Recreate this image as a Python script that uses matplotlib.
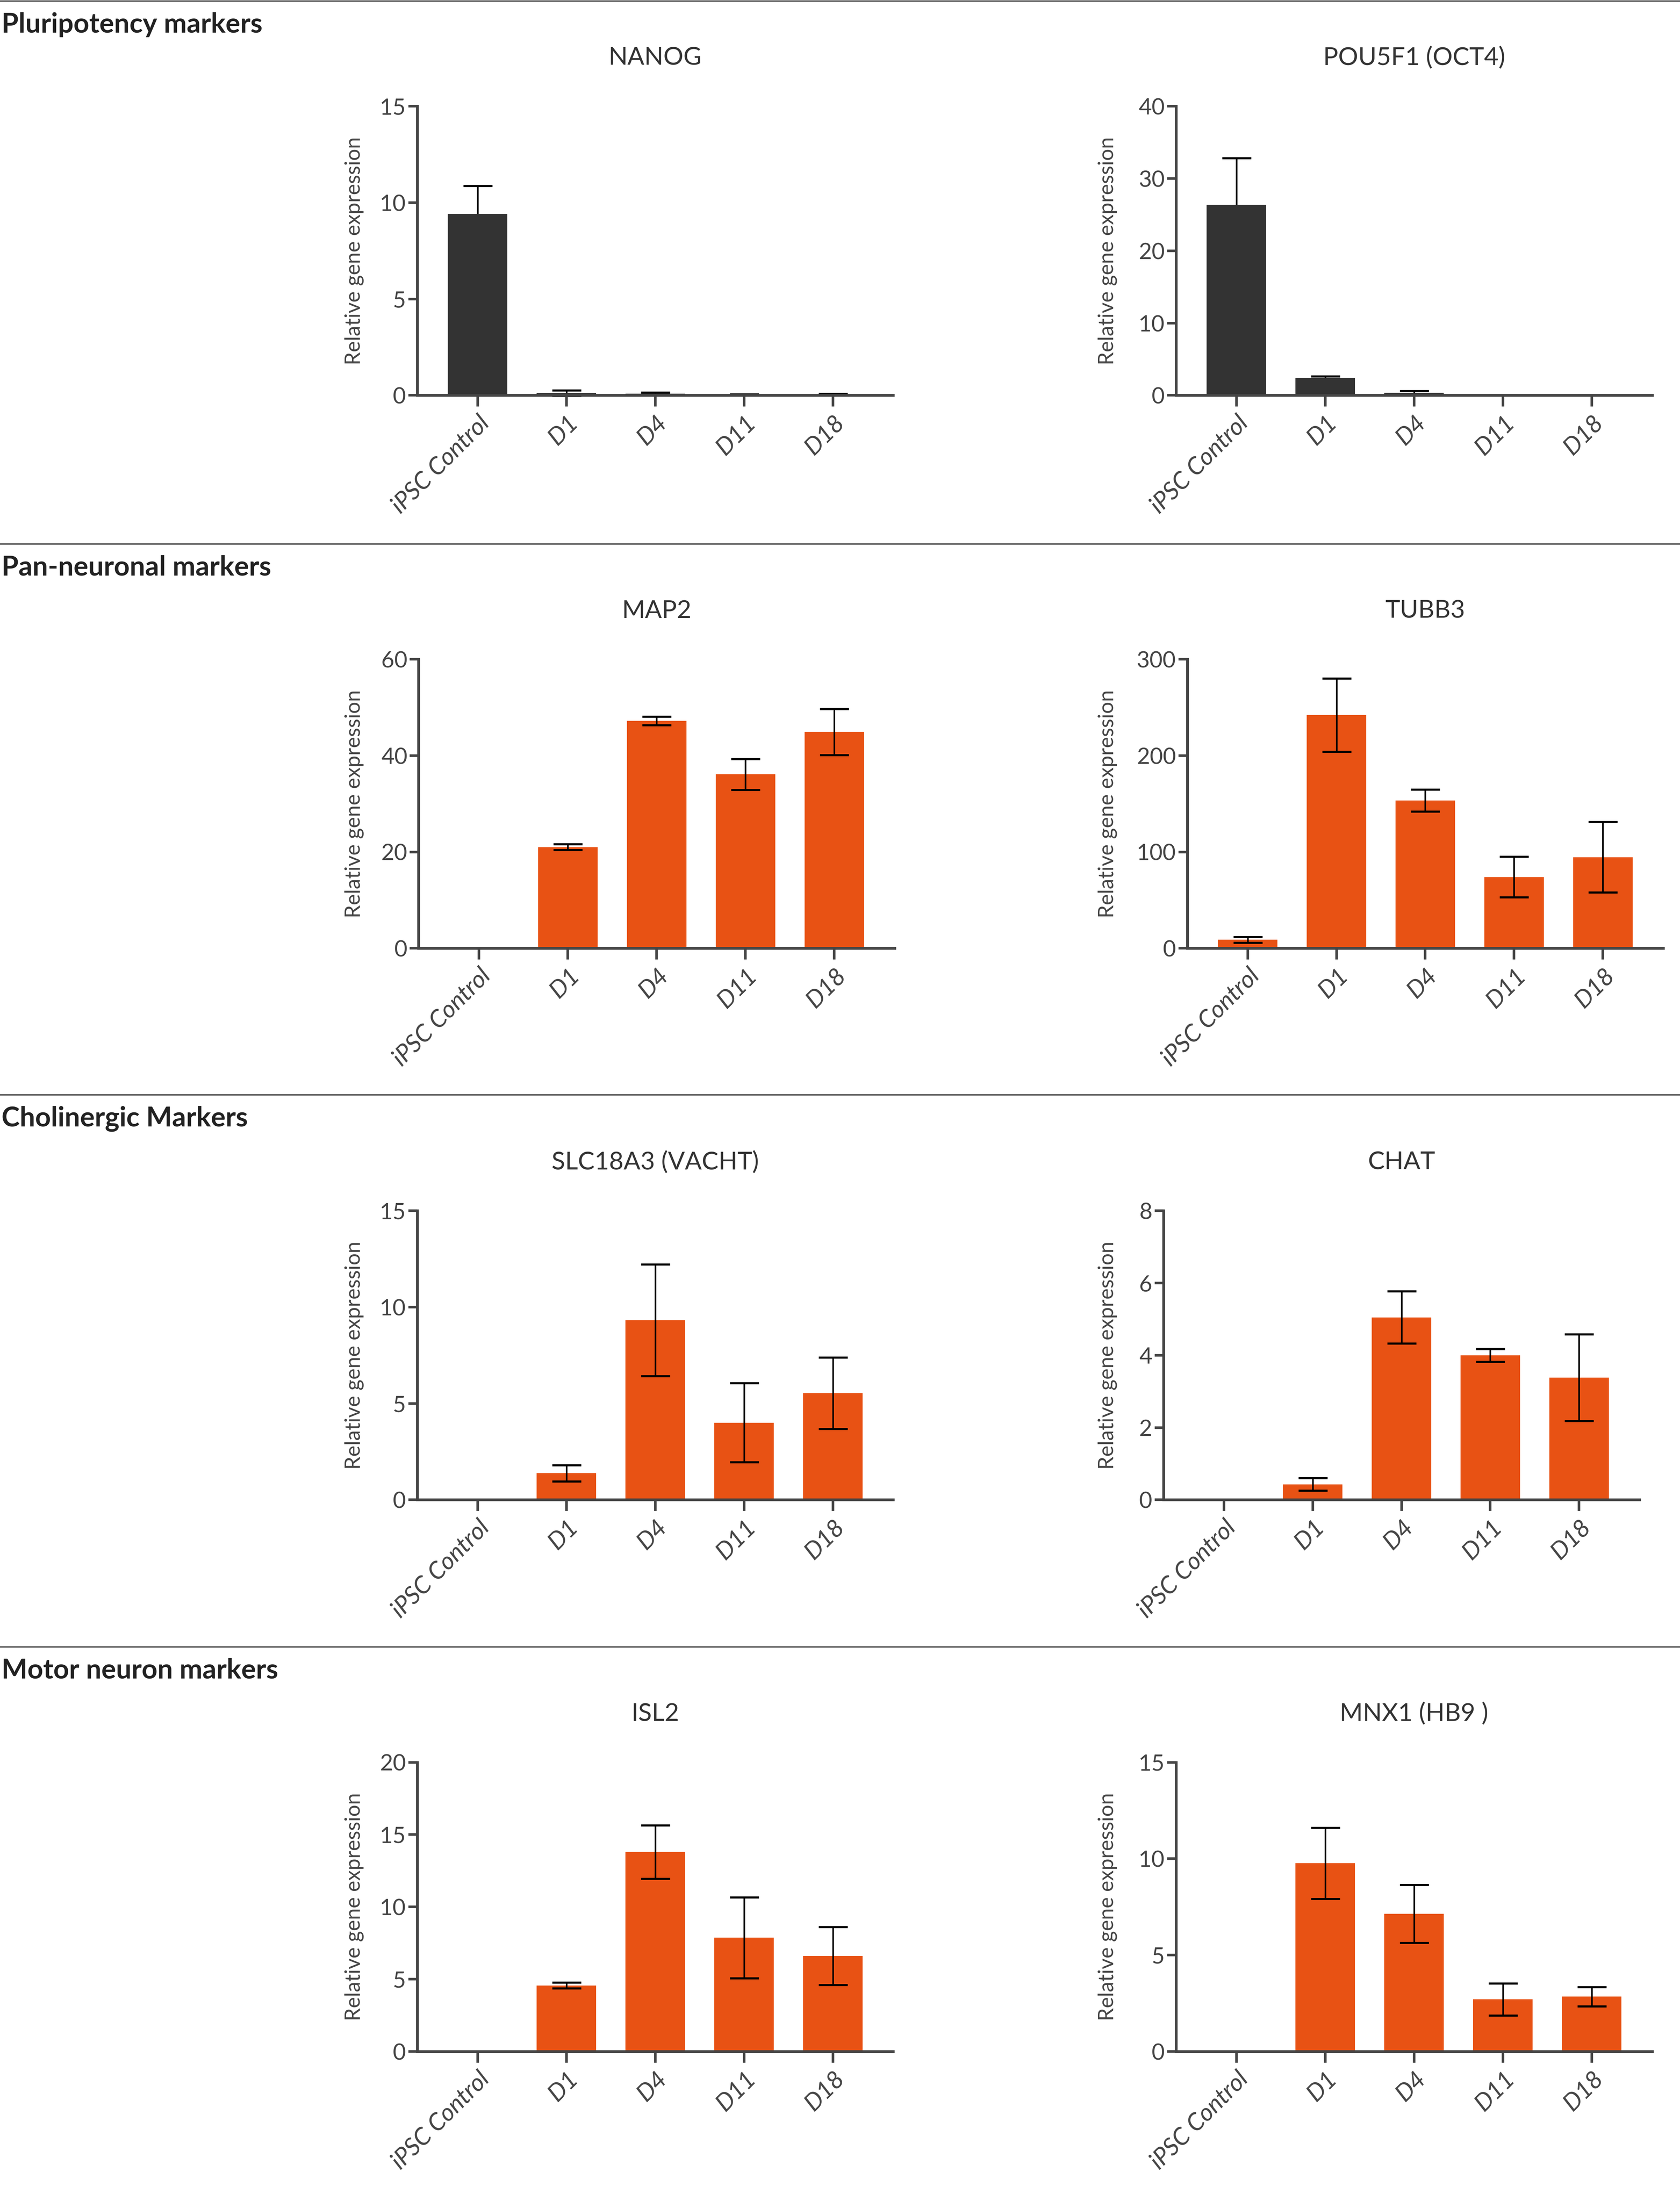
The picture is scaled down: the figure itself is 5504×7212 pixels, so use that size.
import matplotlib
matplotlib.use('Agg')
import matplotlib.pyplot as plt
from matplotlib.lines import Line2D

plt.rcParams['font.family'] = ['Lato', 'DejaVu Sans']

# data (relative gene expression, mean and error)
categories = ['iPSC Control', 'D1', 'D4', 'D11', 'D18']

nanog = [9.42, 0.12, 0.09, 0.03, 0.05]
nanog_err = [1.45, 0.14, 0.06, 0.02, 0.04]
pou5f1 = [26.35, 2.43, 0.37, 0.05, 0.05]
pou5f1_err = [6.5, 0.2, 0.22, 0.03, 0.03]
map2 = [0, 21.0, 47.2, 36.1, 44.9]
map2_err = [0, 0.6, 0.9, 3.2, 4.8]
tubb3 = [8.9, 242.0, 153.4, 74.0, 94.6]
tubb3_err = [3.0, 38.0, 11.5, 21.0, 36.5]
slc18a3 = [0, 1.38, 9.32, 4.0, 5.53]
slc18a3_err = [0, 0.42, 2.9, 2.05, 1.85]
chat = [0, 0.43, 5.05, 4.0, 3.38]
chat_err = [0, 0.17, 0.72, 0.18, 1.2]
isl2 = [0, 4.56, 13.8, 7.86, 6.6]
isl2_err = [0, 0.2, 1.85, 2.8, 2.0]
mnx1 = [0, 9.76, 7.14, 2.7, 2.84]
mnx1_err = [0, 1.85, 1.5, 0.83, 0.5]

sections = ['Pluripotency markers', 'Pan-neuronal markers',
            'Cholinergic Markers', 'Motor neuron markers']

DARK = '#333333'
ORANGE = '#E85214'
AXC = '#444444'

# layout in "display" units: figure is 1200 wide
W, H = 1200.0, 1200.0 * 7592 / 5794
# 380 dpi keeps the picture just under 40 Mpx (about 5504 x 7212)
DPI = 380
fig = plt.figure(figsize=(5794 / 400, 7592 / 400), dpi=DPI)


def fx(x):
    return x / W


def fy(y):
    return 1 - y / H


sep_y = [0.8, 388.5, 782, 1176.5]
row_top = [76, 471, 865, 1259]
ax_h = 206.5
ax_w = 340.0

panels = [
    # title, values, errors, ymax, step, color, row, left edge
    ('NANOG', nanog, nanog_err, 15, 5, DARK, 0, 298),
    ('POU5F1 (OCT4)', pou5f1, pou5f1_err, 40, 10, DARK, 0, 840),
    ('MAP2', map2, map2_err, 60, 20, ORANGE, 1, 299),
    ('TUBB3', tubb3, tubb3_err, 300, 100, ORANGE, 1, 848),
    ('SLC18A3 (VACHT)', slc18a3, slc18a3_err, 15, 5, ORANGE, 2, 298),
    ('CHAT', chat, chat_err, 8, 2, ORANGE, 2, 831),
    ('ISL2', isl2, isl2_err, 20, 5, ORANGE, 3, 298),
    ('MNX1 (HB9 )', mnx1, mnx1_err, 15, 5, ORANGE, 3, 840),
]

for y, name in zip(sep_y, sections):
    fig.add_artist(Line2D([0, 1], [fy(y), fy(y)], transform=fig.transFigure,
                          color='#555555', lw=0.9))
    fig.text(fx(1), fy(y + 22.5), name, fontsize=17, fontweight='bold',
             color='#222222', ha='left', va='baseline')

for title, vals, errs, ymax, step, color, row, left in panels:
    top = row_top[row]
    ax = fig.add_axes([fx(left), fy(top + ax_h), ax_w / W, ax_h / H])
    x = list(range(len(categories)))
    ax.bar(x, vals, width=0.67, color=color, zorder=1)
    ex = [i for i, e in zip(x, errs) if e > 0]
    ev = [v for v, e in zip(vals, errs) if e > 0]
    ee = [e for e in errs if e > 0]
    # on the dark bars the lower whisker is hidden behind the bar
    ez = 0.5 if color == DARK else 3
    ax.errorbar(ex, ev, yerr=ee, fmt='none', ecolor='black', elinewidth=1.0,
                capsize=9, capthick=1.3, zorder=ez, clip_on=False)

    ax.set_xlim(-0.68, 4.68)
    ax.set_ylim(0, ymax)
    ax.set_yticks(range(0, ymax + 1, step))
    ax.set_xticks(x)
    ax.set_xticklabels(categories, rotation=45, ha='right',
                       rotation_mode='anchor', fontstyle='italic')

    for s in ['top', 'right']:
        ax.spines[s].set_visible(False)
    for s in ['left', 'bottom']:
        ax.spines[s].set_color(AXC)
        ax.spines[s].set_linewidth(1.7)
    ax.tick_params(axis='y', length=5.5, width=1.6, color=AXC, pad=1.5,
                   labelsize=14, labelcolor=AXC)
    ax.tick_params(axis='x', length=7, width=1.6, color=AXC, pad=3,
                   labelsize=15, labelcolor=AXC)
    ax.set_facecolor('none')

    # panel title and y label
    fig.text(fx(left + ax_w / 2), fy(top - 29.6), title, fontsize=15.5,
             color='#333333', ha='center', va='baseline')
    lab_x = 253 if left < 600 else 791
    fig.text(fx(lab_x), fy(top + ax_h / 2), 'Relative gene expression',
             rotation=90, fontsize=13, color=AXC, ha='center', va='center')

fig.savefig('out.png', dpi=DPI)
